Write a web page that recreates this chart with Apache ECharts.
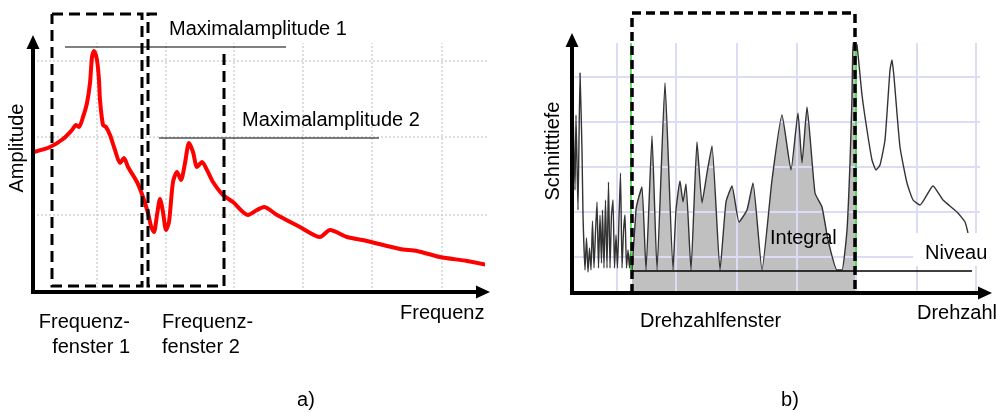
<!DOCTYPE html>
<html>
<head>
<meta charset="utf-8">
<script src="https://cdn.jsdelivr.net/npm/echarts@6/dist/echarts.min.js"></script>
<style>html,body{margin:0;padding:0;background:#fff}#c{width:996px;height:412px}</style>
</head>
<body>
<div id="c"></div>
<script>
// ---- a) Frequency spectrum (x: Frequenz, y: Amplitude), arbitrary units ----
const freqCurve = [[1,140],[17,145],[30,153],[39,162],[43,167],[46,165],[50,175],[54,189],[57,209],[59,235],[61,241],[64,232],[66,212],[67,192],[70,167],[73,165],[77,157],[82,142],[87,129],[91,134],[95,125],[104,110],[110,95],[115,79],[118,66],[121,60],[124,77],[127,93],[130,80],[133,62],[136,70],[140,110],[144,120],[148,112],[152,129],[156,149],[160,140],[164,125],[169,130],[174,122],[180,110],[190,97],[200,90],[215,77],[224,82],[231,85],[244,77],[267,65],[287,55],[297,62],[314,55],[334,51],[367,43],[384,41],[407,35],[434,31],[454,27]];
const leftGridX = [64,133,201,270,339,409];
const leftGridY = [77,155,231];
const freqWindow1 = [19,109];        // Frequenzfenster 1 (x from, x to)
const freqWindow2 = [115,191];       // Frequenzfenster 2
const maxAmp1 = [245, 32, 253];      // level, x from, x to
const maxAmp2 = [154, 126, 346];

// ---- b) Cutting depth over speed (x: Drehzahl, y: Schnitttiefe) ----
const cutCurve = [[1,185],[3,103],[4,178],[6,83],[8,220],[10,143],[11,78],[13,23],[14.5,55],[16,21],[17.5,45],[19,23],[20.5,72],[22,25],[23.5,61],[25,91],[26.5,25],[28,78],[29.5,30],[30.5,83],[32,25],[33.5,93],[35,25],[36.5,111],[38,25],[39.5,78],[41,93],[42.5,25],[44,58],[45.5,25],[47,75],[48.5,120],[50,25],[51.5,61],[53,78],[54.5,25],[56,43],[57.5,25],[58.5,40],[59.5,21],[60,23],[64,83],[66,93],[70,106],[74,23],[80,157],[85,23],[93,210],[101,23],[104,83],[108,112],[111,91],[114,109],[119,23],[125,151],[130,90],[135,120],[140,147],[148,23],[154,91],[160,107],[167,71],[175,83],[181,110],[190,23],[200,113],[210,178],[219,123],[226,180],[230,130],[235,186],[243,100],[250,86],[256,53],[265,23],[270,23],[275,63],[278,130],[280,196],[281,250],[283,250],[285,248],[290,198],[295,163],[300,133],[304,123],[308,128],[313,153],[318,223],[320,233],[322,216],[328,146],[335,110],[341,93],[348,88],[361,107],[371,93],[385,81],[393,71],[396,60]];
const rightGridX = [45,104,165,225,284,345,404];
const rightGridY = [36,81,126,171,216];
const speedWindow = [60,283];        // Drehzahlfenster
const niveau = [22, 60, 400];        // level, x from, x to

const FONT = {fontFamily:'"Liberation Sans", Arial, sans-serif', fontSize:20, fill:'#000'};

function axisLine(){
  return {show:true, onZero:false, symbol:['none','triangle'], symbolSize:[13,14],
          lineStyle:{color:'#000', width:4, cap:'square'}};
}
function valAxis(grid, max){
  return {type:'value', gridIndex:grid, min:0, max:max, z:10,
          axisLine:axisLine(), axisTick:{show:false}, axisLabel:{show:false}, splitLine:{show:false}};
}

const windowFill = cutCurve.filter(p => p[0] >= speedWindow[0] && p[0] <= speedWindow[1]);

const option = {
  animation:false,
  backgroundColor:'#fff',
  grid:[
    {left:33, right:513, top:42, bottom:120},
    {left:572, right:11, top:40, bottom:119}
  ],
  xAxis:[valAxis(0,450), valAxis(1,413)],
  yAxis:[valAxis(0,250), valAxis(1,253)],
  series:[
    {type:'line', xAxisIndex:0, yAxisIndex:0, data:freqCurve, showSymbol:false, smooth:0.25, clip:false, z:3,
     lineStyle:{color:'#ff0000', width:4}},
    {type:'line', xAxisIndex:1, yAxisIndex:1, data:windowFill, showSymbol:false, smooth:0.15, clip:false, z:1,
     lineStyle:{width:0}, areaStyle:{color:'#c0c0c0', opacity:1}},
    {type:'line', xAxisIndex:1, yAxisIndex:1, data:cutCurve, showSymbol:false, smooth:0.15, clip:false, z:3,
     lineStyle:{color:'#333333', width:1.4}}
  ]
};

const chart = echarts.init(document.getElementById('c'));
chart.setOption(option);

const L = p => chart.convertToPixel({xAxisIndex:0, yAxisIndex:0}, p);
const R = p => chart.convertToPixel({xAxisIndex:1, yAxisIndex:1}, p);
const g = [];
function line(a, b, style, z){
  g.push({type:'line', z:z, silent:true, shape:{x1:a[0], y1:a[1], x2:b[0], y2:b[1]}, style:style});
}
function poly(pts, style, z){
  g.push({type:'polyline', z:z, silent:true, shape:{points:pts}, style:Object.assign({fill:null}, style)});
}
function text(str, x, y, align, extra){
  g.push(Object.assign({type:'text', z:20, silent:true, x:x, y:y,
    style:Object.assign({text:str, x:0, y:0, align:align, textAlign:align, verticalAlign:'middle', textVerticalAlign:'middle', lineHeight:25}, FONT)}, extra||{}));
}

// left grid lines (dotted)
const dotted = {stroke:'#bdbdbd', lineWidth:1, lineDash:[2,2]};
leftGridX.forEach(x => line(L([x,0]), L([x,249]), dotted, 1));
leftGridY.forEach(y => line(L([0,y]), L([455,y]), dotted, 1));

// right grid lines (lavender)
const lav = {stroke:'#dcdcf6', lineWidth:2};
rightGridX.forEach(x => line(R([x,0]), R([x,250]), lav, 2));
rightGridY.forEach(y => line(R([0,y]), R([408,y]), lav, 2));

// maximal amplitude levels
const thin = {stroke:'#000', lineWidth:1};
line(L([maxAmp1[1],maxAmp1[0]]), L([maxAmp1[2],maxAmp1[0]]), thin, 5);
line(L([maxAmp2[1],maxAmp2[0]]), L([maxAmp2[2],maxAmp2[0]]), thin, 5);

// frequency windows (dashed boxes)
const dash = {stroke:'#000', lineWidth:3, lineDash:[11,6]};
poly([L([freqWindow1[0],278]), L([freqWindow1[1],278]), L([freqWindow1[1],6]), L([freqWindow1[0],6]), L([freqWindow1[0],278])], dash, 10);
poly([L([freqWindow2[0]+9,278]), L([freqWindow2[0],278]), L([freqWindow2[0],6]), L([freqWindow2[1],6]), L([freqWindow2[1],240])], dash, 10);

// Niveau line
line(R([niveau[1],niveau[0]]), R([niveau[2],niveau[0]]), {stroke:'#000', lineWidth:1.5}, 5);

// speed window: green markers + dashed box
const green = {stroke:'#22dd22', lineWidth:1.5};
line(R([speedWindow[0]-1,250]), R([speedWindow[0]-1,niveau[0]]), green, 9);
line(R([speedWindow[1]+1,250]), R([speedWindow[1]+1,niveau[0]]), green, 9);
poly([R([speedWindow[0],0]), R([speedWindow[0],280]), R([speedWindow[1],280]), R([speedWindow[1],0])],
     {stroke:'#000', lineWidth:3.5, lineDash:[9,5]}, 10);

// white label background behind "Niveau"
g.push({type:'rect', z:8, silent:true, shape:{x:913, y:233, width:83, height:33}, style:{fill:'#fff'}});

// texts
text('Maximalamplitude 1', 169, 29, 'left');
text('Maximalamplitude 2', 242, 120, 'left');
text('Amplitude', 17, 148, 'center', {rotation:Math.PI/2});
text('Frequenz-\nfenster 1', 130, 335, 'right');
text('Frequenz-\nfenster 2', 162, 335, 'left');
text('Frequenz', 400, 313, 'left');
text('a)', 306, 400, 'center');
text('Schnitttiefe', 553, 151, 'center', {rotation:Math.PI/2});
text('Integral', 770, 238, 'left');
text('Niveau', 925, 253, 'left');
text('Drehzahlfenster', 640, 321, 'left');
text('Drehzahl', 917, 313, 'left');
text('b)', 790, 400, 'center');

chart.setOption({graphic:{elements:g}});
</script>
</body>
</html>
